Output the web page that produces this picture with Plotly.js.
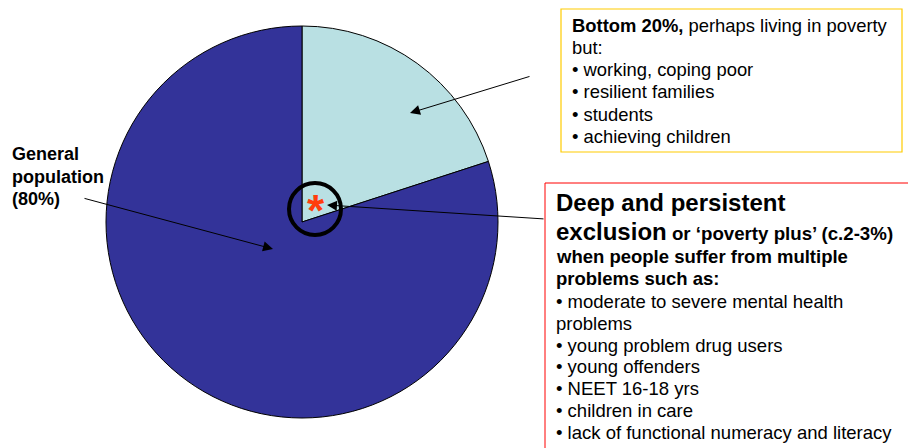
<!DOCTYPE html>
<html>
<head>
<meta charset="utf-8">
<script src="https://cdn.plot.ly/plotly-3.0.1.min.js"></script>
<style>html,body{margin:0;padding:0;background:#fff;}#chart{width:908px;height:448px;}</style>
</head>
<body>
<div id="chart"></div>
<script>
// ---- data ----
const sliceLabels = ['Bottom 20%', 'General population'];
const sliceValues = [20, 80];
const sliceColors = ['#b9e0e3', '#333399'];

const generalLines = ['General', 'population', '(80%)'];

const bottomLines = [
  '<b>Bottom 20%,</b> perhaps living in poverty',
  'but:',
  '• working, coping poor',
  '• resilient families',
  '• students',
  '• achieving children'
];

const deepHeader = 'Deep and persistent';
const deepHeader2 = 'exclusion';
const deepHeader2Tail = ' or ‘poverty plus’ (c.2-3%)';
const deepBoldLines = ['when people suffer from multiple', 'problems such as:'];
const deepItems = [
  '• moderate to severe mental health',
  'problems',
  '• young problem drug users',
  '• young offenders',
  '• NEET 16-18 yrs',
  '• children in care',
  '• lack of functional numeracy and literacy'
];

// ---- helpers ----
const W = 908, H = 448;
const px = x => x / W;
const py = y => 1 - y / H;
const FONT = 'Liberation Sans, Arial, sans-serif';

const annotations = [];
function textLine(txt, x, baseline, size, bold) {
  annotations.push({
    xref: 'paper', yref: 'paper', x: px(x), y: py(baseline - 0.3465 * size),
    xanchor: 'left', yanchor: 'middle', showarrow: false,
    text: bold ? '<b>' + txt + '</b>' : txt,
    font: {family: FONT, size: size, color: '#000'},
    borderpad: 0
  });
}
function arrow(tipX, tipY, tailX, tailY) {
  annotations.push({
    xref: 'paper', yref: 'paper', x: px(tipX), y: py(tipY),
    ax: tailX - tipX, ay: tailY - tipY, axref: 'pixel', ayref: 'pixel',
    text: '', showarrow: true, arrowhead: 2, arrowsize: 2, arrowwidth: 1,
    arrowcolor: '#000', standoff: 0, startstandoff: 0
  });
}

// General population label
generalLines.forEach((t, i) => textLine(t, 11, 160.5 + i * 22.5, 18, true));

// Bottom 20% box text
bottomLines.forEach((t, i) => textLine(t, 571, 32 + i * 22.1, 18.4, false));

// Deep exclusion box text
textLine(deepHeader, 555, 211, 24, true);
annotations.push({
  xref: 'paper', yref: 'paper', x: px(555), y: py(240 - 0.3465 * 24),
  xanchor: 'left', yanchor: 'middle', showarrow: false, borderpad: 0,
  text: '<b>' + deepHeader2 + '<span style="font-size:18.7px">' + deepHeader2Tail + '</span></b>',
  font: {family: FONT, size: 24, color: '#000'}
});
deepBoldLines.forEach((t, i) => textLine(t, 555, 263 + i * 22, 18.5, true));
deepItems.forEach((t, i) => textLine(t, 555, 308 + i * 21.8, 18.5, false));

// Asterisk
annotations.push({
  xref: 'paper', yref: 'paper', x: px(316), y: py(211),
  xanchor: 'center', yanchor: 'middle', showarrow: false, borderpad: 0,
  text: '<b>*</b>', font: {family: FONT, size: 44, color: '#ff3d0d'}
});

// Arrows
arrow(410, 113, 531, 76);
arrow(327, 205, 545, 219);
arrow(273, 249, 83, 198);

const shapes = [
  {type: 'rect', xref: 'paper', yref: 'paper', x0: px(561), x1: px(902), y0: py(9), y1: py(152),
   line: {color: '#ffcc00', width: 1.2}, fillcolor: 'rgba(255,255,255,0)', layer: 'below'},
  {type: 'rect', xref: 'paper', yref: 'paper', x0: px(545), x1: px(930), y0: py(183), y1: py(470),
   line: {color: '#ff0000', width: 1}, fillcolor: 'rgba(255,255,255,0)', layer: 'below'},
  {type: 'circle', xref: 'paper', yref: 'paper', x0: px(289), x1: px(341), y0: py(183), y1: py(235),
   line: {color: '#000', width: 4}, fillcolor: 'rgba(0,0,0,0)', layer: 'above'}
];

const data = [{
  type: 'pie',
  labels: sliceLabels,
  values: sliceValues,
  marker: {colors: sliceColors, line: {color: '#000', width: 1}},
  sort: false,
  direction: 'clockwise',
  rotation: 0,
  textinfo: 'none',
  hoverinfo: 'none',
  domain: {x: [px(106), px(498)], y: [py(418), py(26)]}
}];

const layout = {
  width: W, height: H,
  margin: {l: 0, r: 0, t: 0, b: 0},
  paper_bgcolor: '#fff',
  showlegend: false,
  annotations: annotations,
  shapes: shapes
};

Plotly.newPlot('chart', data, layout, {displayModeBar: false, staticPlot: true});
</script>
</body>
</html>
